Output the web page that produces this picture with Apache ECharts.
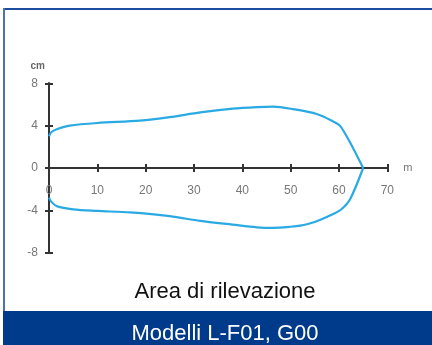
<!DOCTYPE html>
<html>
<head>
<meta charset="utf-8">
<script src="https://cdn.jsdelivr.net/npm/echarts@6/dist/echarts.min.js"></script>
<style>
html,body{margin:0;padding:0;background:#fff;}
#c{width:432px;height:345px;}
</style>
</head>
<body>
<div id="c"></div>
<script>
var xTicks = [0, 10, 20, 30, 40, 50, 60, 70];
var yTicks = [-8, -4, 0, 4, 8];
var upperEdge = [[0,3.0],[0.5,3.4],[1.6,3.66],[4.3,4.0],[10,4.25],[18.8,4.47],[25,4.8],[31.3,5.25],[38,5.6],[43,5.75],[46.4,5.8],[50.5,5.56],[55.4,5.1],[58.8,4.4],[60.2,4.0],[62.3,2.4],[65,0]];
var lowerEdge = [[0,-2.8],[0.5,-3.2],[1.6,-3.6],[5,-3.9],[10,-4.05],[16.8,-4.2],[25,-4.55],[31.3,-5.0],[38,-5.35],[43,-5.6],[46.4,-5.65],[50,-5.55],[52,-5.44],[55,-5.1],[58.8,-4.35],[60.5,-3.9],[62.3,-2.95],[65,0]];
var chartTitle = 'Area di rilevazione';
var footerText = 'Modelli L-F01, G00';

var chart = echarts.init(document.getElementById('c'), null, {renderer:'canvas'});
var axisCol = '#333';
var lblCol = '#777';
var font = 'Liberation Sans, Arial, sans-serif';
function xAxisDef(inside, labels) {
  return {
    type:'value', position:'bottom', min:xTicks[0], max:xTicks[xTicks.length-1], interval:10,
    axisLine:{show:true, onZero:true, onZeroAxisIndex:0, lineStyle:{color:axisCol, width:2}},
    axisTick:{show:true, inside:inside, length:4, lineStyle:{color:axisCol, width:2}},
    axisLabel:{show:labels, color:lblCol, fontSize:12, fontFamily:font, margin:-68},
    splitLine:{show:false},
    name: labels ? 'm' : '', nameLocation:'end', nameGap:16,
    nameTextStyle:{color:'#777', fontSize:11, fontFamily:font, verticalAlign:'middle', padding:[0,0,3,0]}
  };
}
function yAxisDef(inside, labels) {
  return {
    type:'value', position:'left', min:yTicks[0], max:yTicks[yTicks.length-1], interval:4,
    axisLine:{show:true, onZero:true, onZeroAxisIndex:0, lineStyle:{color:axisCol, width:2}},
    axisTick:{show:true, inside:inside, length:4, lineStyle:{color:axisCol, width:2}},
    axisLabel:{show:labels, color:lblCol, fontSize:12, fontFamily:font, margin:11},
    splitLine:{show:false},
    name: labels ? 'cm' : '', nameLocation:'end', nameGap:12,
    nameTextStyle:{color:'#666', fontSize:10, fontWeight:'bold', fontFamily:font, align:'right', padding:[0,4,0,0]}
  };
}
chart.setOption({
  animation:false,
  backgroundColor:'#fff',
  grid:{left:49, right:44.7, top:83.3, bottom:92.3, containLabel:false},
  title:[
    {text:chartTitle, left:220, top:276, textAlign:'center', textStyle:{color:'#111', fontSize:22, fontWeight:'normal', fontFamily:font}},
    {text:footerText, left:220, top:318, textAlign:'center', textStyle:{color:'#fff', fontSize:22, fontWeight:'normal', fontFamily:font}, z:10}
  ],
  xAxis:[xAxisDef(false, true), xAxisDef(true, false)],
  yAxis:[yAxisDef(false, true), yAxisDef(true, false)],
  graphic:[
    {type:'rect', shape:{x:3, y:311, width:429, height:34}, style:{fill:'#003a8a'}, z:-1},
    {type:'rect', shape:{x:3, y:8, width:429, height:2}, style:{fill:'#1d4c9e'}, z:-1},
    {type:'rect', shape:{x:3, y:8, width:2, height:303}, style:{fill:'#4f71b3'}, z:-1}
  ],
  series:[
    {type:'line', data:upperEdge, smooth:0.3, showSymbol:false, symbol:'none', lineStyle:{color:'#2aaae4', width:2.2}, z:5},
    {type:'line', data:lowerEdge, smooth:0.3, showSymbol:false, symbol:'none', lineStyle:{color:'#2aaae4', width:2.2}, z:5}
  ]
});
</script>
</body>
</html>
